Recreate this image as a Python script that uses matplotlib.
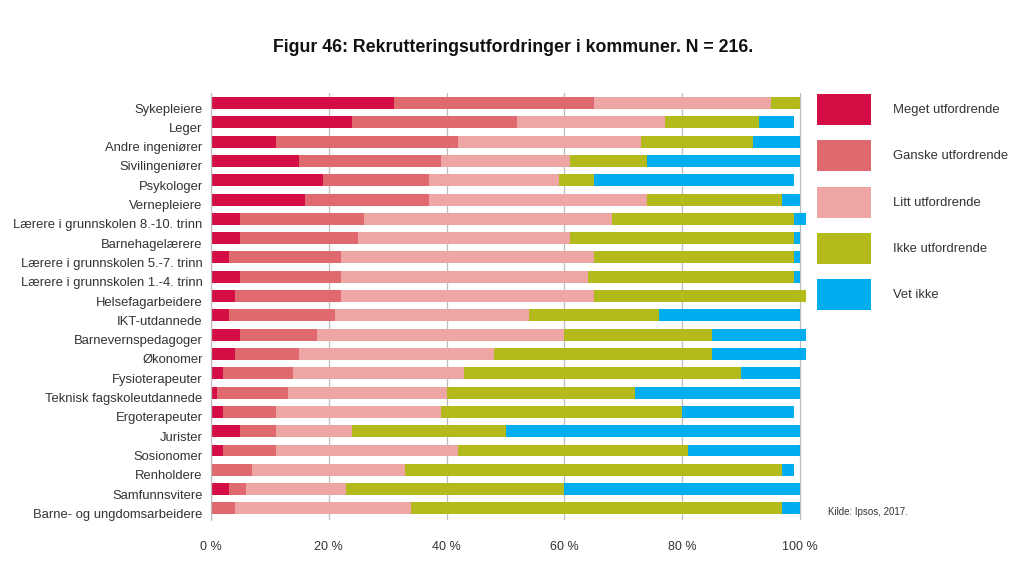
"""Figur 46: Rekrutteringsutfordringer i kommuner, stacked horizontal bars."""

import matplotlib

matplotlib.use("Agg")
import matplotlib.pyplot as plt
import matplotlib.transforms as mtransforms
import numpy as np
from matplotlib.patches import Rectangle

plt.rcParams["font.family"] = ["Liberation Sans", "DejaVu Sans"]

occupations = [
    "Sykepleiere",
    "Leger",
    "Andre ingeniører",
    "Sivilingeniører",
    "Psykologer",
    "Vernepleiere",
    "Lærere i grunnskolen 8.-10. trinn",
    "Barnehagelærere",
    "Lærere i grunnskolen 5.-7. trinn",
    "Lærere i grunnskolen 1.-4. trinn",
    "Helsefagarbeidere",
    "IKT-utdannede",
    "Barnevernspedagoger",
    "Økonomer",
    "Fysioterapeuter",
    "Teknisk fagskoleutdannede",
    "Ergoterapeuter",
    "Jurister",
    "Sosionomer",
    "Renholdere",
    "Samfunnsvitere",
    "Barne- og ungdomsarbeidere",
]

categories = [
    "Meget utfordrende",
    "Ganske utfordrende",
    "Litt utfordrende",
    "Ikke utfordrende",
    "Vet ikke",
]

# percent of municipalities, one list per answer category (same order as occupations)
meget = [31, 24, 11, 15, 19, 16, 5, 5, 3, 5, 4, 3, 5, 4, 2, 1, 2, 5, 2, 0, 3, 0]
ganske = [34, 28, 31, 24, 18, 21, 21, 20, 19, 17, 18, 18, 13, 11, 12, 12, 9, 6, 9, 7, 3, 4]
litt = [30, 25, 31, 22, 22, 37, 42, 36, 43, 42, 43, 33, 42, 33, 29, 27, 28, 13, 31, 26, 17, 30]
ikke = [5, 16, 19, 13, 6, 23, 31, 38, 34, 35, 36, 22, 25, 37, 47, 32, 41, 26, 39, 64, 37, 63]
vet_ikke = [0, 6, 8, 26, 34, 3, 2, 1, 1, 1, 0, 24, 16, 16, 10, 28, 19, 50, 19, 2, 40, 3]

colors = ["#d50d45", "#e0686f", "#eea6a5", "#b3ba1b", "#00aeef"]
xticks = [0, 20, 40, 60, 80, 100]

W, H = 1024, 575
fig = plt.figure(figsize=(W / 100, H / 100), dpi=100)

# axes: 0 % at x=211 px, 100 % at x=800 px, rows from y=93 to y=520 px
px_per_pct = (800 - 211) / 100
x_right = 102.0
ax = fig.add_axes(
    [211 / W, 1 - 520 / H, x_right * px_per_pct / W, (520 - 93) / H]
)

y = np.arange(len(occupations))
left = np.zeros(len(occupations))
for values, color in zip([meget, ganske, litt, ikke, vet_ikke], colors):
    vals = np.asarray(values, dtype=float)
    ax.barh(y, vals, left=left, height=0.62, color=color, linewidth=0, zorder=2)
    left += vals

ax.set_xlim(0, x_right)
ax.set_ylim(len(occupations) - 0.4, -0.52)

ax.set_xticks(xticks)
ax.set_xticklabels([f"{t} %" for t in xticks], fontsize=9, color="#333333")
ax.set_yticks(y)
ax.set_yticklabels(occupations, fontsize=9.4, color="#333333")
ax.tick_params(axis="both", length=0)
ax.tick_params(axis="x", pad=15)
ax.tick_params(axis="y", pad=6)

# labels sit slightly below the bar centres in the original
offset = mtransforms.ScaledTranslation(0, -5 / 100, fig.dpi_scale_trans)
for label in ax.get_yticklabels():
    label.set_transform(label.get_transform() + offset)

ax.grid(axis="x", color="#bdbdbd", linewidth=0.9, zorder=0)
for side in ["top", "right", "bottom"]:
    ax.spines[side].set_visible(False)
ax.spines["left"].set_color("#bdbdbd")
ax.spines["left"].set_linewidth(0.9)

fig.text(
    513 / W,
    1 - 47 / H,
    "Figur 46: Rekrutteringsutfordringer i kommuner. N = 216.",
    ha="center",
    va="center",
    fontsize=12.8,
    fontweight="bold",
    color="#111111",
)

# legend drawn by hand: large swatches with text to the right
for i, (name, color) in enumerate(zip(categories, colors)):
    top = 94 + i * 46.3
    fig.add_artist(
        Rectangle(
            (817 / W, 1 - (top + 31) / H),
            54 / W,
            31 / H,
            transform=fig.transFigure,
            facecolor=color,
            edgecolor="none",
        )
    )
    fig.text(
        893 / W,
        1 - (top + 16) / H,
        name,
        ha="left",
        va="center",
        fontsize=9.4,
        color="#333333",
    )

fig.text(828 / W, 1 - 512 / H, "Kilde: Ipsos, 2017.", ha="left", va="center",
         fontsize=7, color="#333333")

fig.savefig("out.png", dpi=100)
